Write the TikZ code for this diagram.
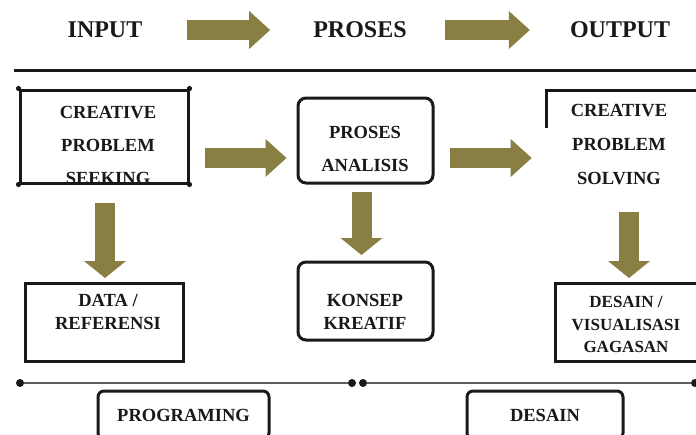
\documentclass[tikz,border=0pt]{standalone}
\usepackage{fontspec}
\setmainfont{Liberation Serif}
\usetikzlibrary{arrows.meta,calc}
\definecolor{olivearrow}{RGB}{138,127,66}
\definecolor{ink}{RGB}{25,25,25}
\definecolor{rulegray}{RGB}{95,95,95}
\begin{document}
\begin{tikzpicture}[x=1pt,y=-1pt,
  hdr/.style={font=\fontsize{24}{28}\selectfont\bfseries, text=ink, inner sep=0pt},
  lbl/.style={font=\fontsize{18.5}{#1}\selectfont\bfseries, text=ink, inner sep=0pt, align=center},
  smalllbl/.style={font=\fontsize{17}{#1}\selectfont\bfseries, text=ink, inner sep=0pt, align=center},
  boxline/.style={draw=ink, line width=3pt},
  sharpbox/.style={boxline, rectangle, inner sep=0pt},
  roundbox/.style={boxline, rectangle, rounded corners=8pt, inner sep=0pt},
  harrow/.style={draw=olivearrow, line width=20pt, -{Triangle[width=38pt,length=21pt,line width=0pt]}},
  varrow/.style={draw=olivearrow, line width=20pt, -{Triangle[width=42pt,length=17pt,line width=0pt]}},
  dotn/.style={circle, fill=ink, inner sep=0pt, minimum size=8pt},
  timeline/.style={draw=rulegray, line width=1.3pt}]
\clip (0,0) rectangle (696,434);
\fill[white] (0,0) rectangle (696,434);

% header
\node[hdr] (hin) at (105,30) {INPUT};
\node[hdr] (hpr) at (360,30) {PROSES};
\node[hdr] (hout) at (620,30) {OUTPUT};
\draw[harrow, shorten <=44pt, shorten >=43pt] (hin) -- (hpr);
\draw[harrow, shorten <=38pt, shorten >=40pt] (hpr) -- (hout);

% rule
\coordinate (rl) at (14,70);
\coordinate (rr) at (696,70);
\draw[line width=3pt, ink] (rl) -- (rr);

% box 1
\node[lbl=33] (t1) at (108,145) {CREATIVE\\PROBLEM\\SEEKING};
\node[sharpbox, minimum width=168pt, minimum height=93pt] (b1) at (104,136.5) {};
\foreach \a in {north west, north east, south west, south east}
  \fill[ink] (b1.\a) circle (2.6pt);

% box 2
\node[roundbox, minimum width=135pt, minimum height=85pt] (b2) at (365.5,140.5) {};
\node[lbl=33] (t2) at (365,148.5) {PROSES\\ANALISIS};

% box 3
\node[lbl=34] (b3) at (619,144.3) {CREATIVE\\PROBLEM\\SOLVING};
\coordinate (b3r) at (700,90);
\coordinate (b3c) at (546,90);
\coordinate (b3l) at (546,128);
\draw[boxline] (b3r) -- (b3c) -- (b3l);

% horizontal arrows row 2
\draw[harrow, shorten <=15pt, shorten >=10pt] ([yshift=-21.5pt]b1.east) -- ([yshift=-17.5pt]b2.west);
\draw[harrow, shorten <=15pt, shorten >=39pt] ([yshift=-17.5pt]b2.east) -- ([yshift=-13.7pt]b3.west);

% lower boxes
\node[sharpbox, minimum width=158pt, minimum height=78pt] (data) at (104,322) {};
\node[lbl=23] (tdata) at (108,311.5) {DATA /\\REFERENSI};
\node[roundbox, minimum width=135pt, minimum height=78pt] (konsep) at (365.5,301) {};
\node[lbl=23] (tkonsep) at (365,311.5) {KONSEP\\KREATIF};
\node[sharpbox, minimum width=145pt, minimum height=78pt] (vis) at (627.5,322) {};
\node[smalllbl=22.5] (tvis) at (626,324.5) {DESAIN /\\VISUALISASI\\GAGASAN};

% down arrows
\draw[varrow, shorten <=18.5pt, shorten >=3.5pt] ([xshift=1pt]b1.south) -- ([xshift=1pt]data.north);
\draw[varrow, shorten <=7.5pt, shorten >=5.5pt] ([xshift=-4pt]b2.south) -- ([xshift=-4pt]konsep.north);
\draw[varrow, shorten <=27.5pt, shorten >=3.5pt] ([xshift=10pt]b3.south) -- ([xshift=1.5pt]vis.north);

% timeline
\node[dotn] (d1) at (20,383) {};
\node[dotn] (d2) at (352,383) {};
\node[dotn] (d3) at (363,383) {};
\node[dotn] (d4) at (695,383) {};
\draw[timeline] (d1) -- (d2);
\draw[timeline] (d3) -- (d4);

% bottom boxes
\node[roundbox, rounded corners=6pt, minimum width=171pt, minimum height=48pt, font=\fontsize{18.5}{22}\selectfont\bfseries, text=ink] (prog) at (183.5,415) {PROGRAMING};
\node[roundbox, rounded corners=6pt, minimum width=156pt, minimum height=48pt, font=\fontsize{18.5}{22}\selectfont\bfseries, text=ink] (desain) at (545,415) {DESAIN};
\end{tikzpicture}
\end{document}
